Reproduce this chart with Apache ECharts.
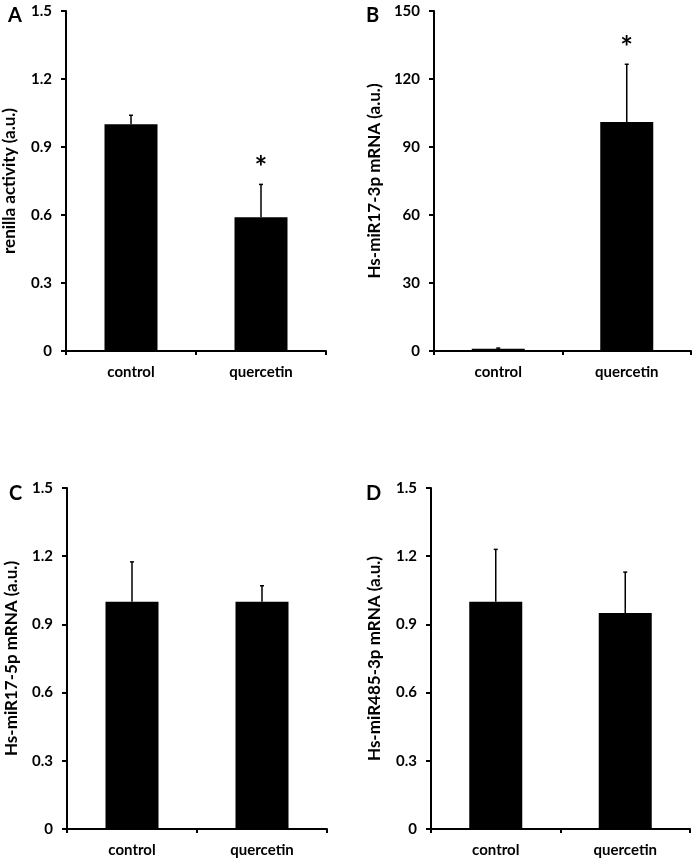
<!DOCTYPE html>
<html>
<head>
<meta charset="utf-8">
<script src="https://cdn.jsdelivr.net/npm/echarts@6/dist/echarts.min.js"></script>
<style>html,body{margin:0;padding:0;background:#fff}#c{width:698px;height:864px}</style>
</head>
<body>
<div id="c"></div>
<script>
var categories = ['control', 'quercetin'];
var panelLetters = ['A', 'B', 'C', 'D'];
var yNames = ['renilla activity (a.u.)', 'Hs-miR17-3p mRNA (a.u.)', 'Hs-miR17-5p mRNA (a.u.)', 'Hs-miR485-3p mRNA (a.u.)'];
var yMax = [1.5, 150, 1.5, 1.5];
var yInterval = [0.3, 30, 0.3, 0.3];
var valuesA = [1.0, 0.59];
var errTopA = [1.04, 0.735];
var sigA = [0, 1];
var valuesB = [1.0, 101];
var errTopB = [1.3, 126.5];
var sigB = [0, 1];
var valuesC = [1.0, 1.0];
var errTopC = [1.175, 1.07];
var sigC = [0, 0];
var valuesD = [1.0, 0.95];
var errTopD = [1.23, 1.13];
var sigD = [0, 0];

var allValues = [valuesA, valuesB, valuesC, valuesD];
var allErr = [errTopA, errTopB, errTopC, errTopD];
var allSig = [sigA, sigB, sigC, sigD];

var FONT = 'Lato';
var grids = [
  {left: 62, top: 11, width: 264, height: 340},
  {left: 434, top: 11, width: 257, height: 340},
  {left: 67, top: 488, width: 260, height: 341},
  {left: 431, top: 488, width: 259, height: 341}
];
var nameGaps = [48, 51, 47, 48];
var letterPos = [[8, 6], [366, 6], [9, 484], [366, 484]];

var xAxes = [], yAxes = [], series = [], graphics = [];
for (var i = 0; i < 4; i++) {
  xAxes.push({
    type: 'category', gridIndex: i, data: categories,
    axisLine: {lineStyle: {color: '#000', width: 2}},
    axisTick: {show: true, length: 4, lineStyle: {color: '#000', width: 2}},
    axisLabel: {color: '#000', fontFamily: FONT, fontWeight: 'bold', fontSize: 15, margin: 14}
  });
  yAxes.push({
    type: 'value', gridIndex: i, min: 0, max: yMax[i], interval: yInterval[i],
    name: yNames[i], nameLocation: 'middle', nameGap: nameGaps[i], nameRotate: 90,
    nameTextStyle: {color: '#000', fontFamily: FONT, fontWeight: 'bold', fontSize: 17},
    axisLine: {show: true, lineStyle: {color: '#000', width: 2}},
    axisTick: {show: true, length: 5, lineStyle: {color: '#000', width: 2}},
    axisLabel: {color: '#000', fontFamily: FONT, fontWeight: 'bold', fontSize: 15, margin: 14},
    splitLine: {show: false}
  });
  series.push({
    type: 'bar', xAxisIndex: i, yAxisIndex: i, data: allValues[i],
    barWidth: 53, itemStyle: {color: '#000'}, silent: true
  });
  var edata = [];
  for (var j = 0; j < categories.length; j++) {
    edata.push([j, allValues[i][j], allErr[i][j], allSig[i][j]]);
  }
  series.push({
    type: 'custom', xAxisIndex: i, yAxisIndex: i, data: edata, z: 5, silent: true,
    renderItem: function (params, api) {
      var x = api.value(0);
      var lo = api.coord([x, api.value(1)]);
      var hi = api.coord([x, api.value(2)]);
      var children = [
        {type: 'line', shape: {x1: lo[0], y1: lo[1], x2: hi[0], y2: hi[1]}, style: {stroke: '#000', lineWidth: 1.5}},
        {type: 'line', shape: {x1: hi[0] - 2, y1: hi[1], x2: hi[0] + 2, y2: hi[1]}, style: {stroke: '#000', lineWidth: 1.5}}
      ];
      if (api.value(3)) {
        children.push({type: 'text', x: hi[0], y: hi[1] - 1, style: {text: '*', fill: '#000', font: 'bold 30px ' + FONT, align: 'center', verticalAlign: 'bottom'}});
      }
      return {type: 'group', children: children};
    }
  });
  graphics.push({type: 'text', left: letterPos[i][0], top: letterPos[i][1], style: {text: panelLetters[i], fill: '#000', font: 'bold 20px ' + FONT}});
}

var chart = echarts.init(document.getElementById('c'));
chart.setOption({
  animation: false,
  grid: grids,
  xAxis: xAxes,
  yAxis: yAxes,
  series: series,
  graphic: graphics
});
</script>
</body>
</html>
